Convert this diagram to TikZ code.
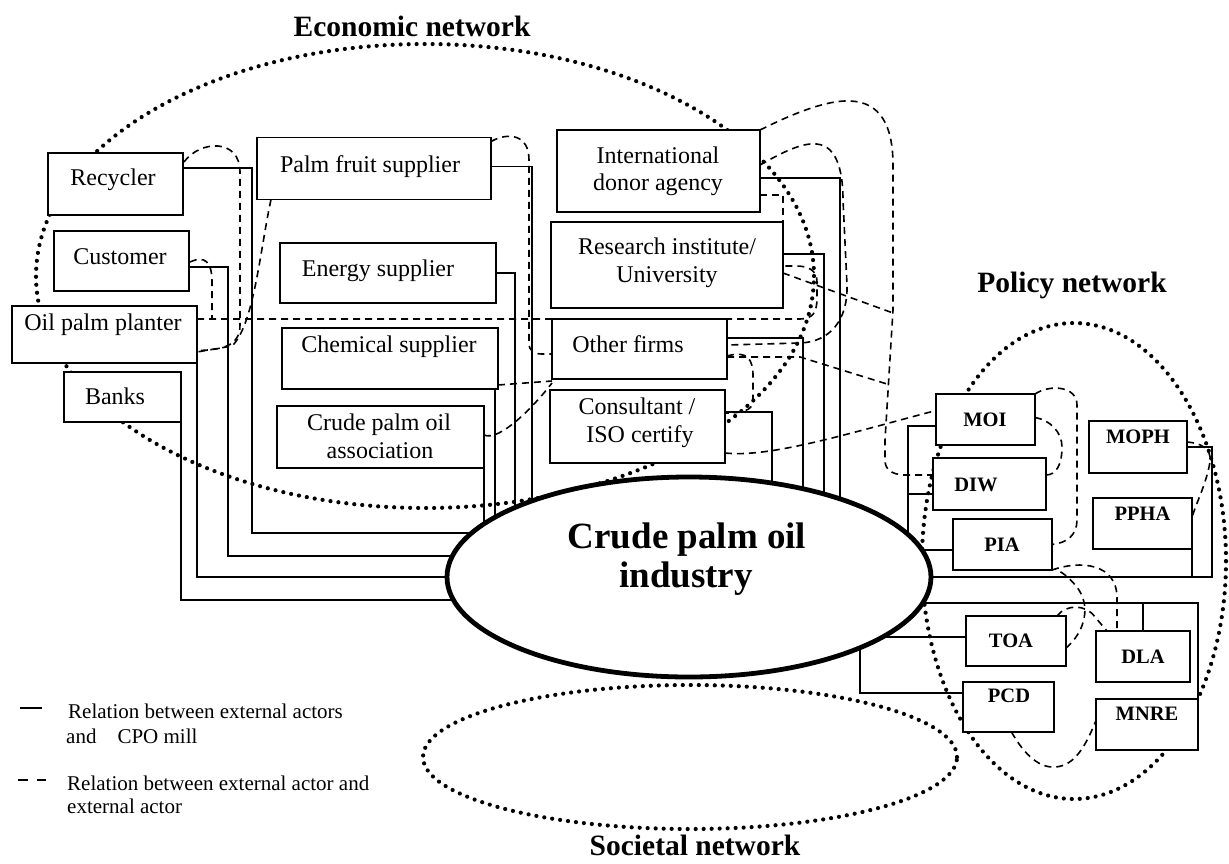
\documentclass[tikz,border=0pt]{standalone}
\usepackage{fontspec}
\setmainfont{Liberation Serif}
\usetikzlibrary{shapes.geometric,calc}
\pgfdeclarelayer{bg}
\pgfsetlayers{bg,main}
\newcommand\bxfont{\fontsize{24}{28}\selectfont}
\newcommand\plfont{\fontsize{20.5}{24}\selectfont\bfseries}
\newcommand\ttlfont{\fontsize{29.5}{34}\selectfont\bfseries}
\newcommand\cpofont{\fontsize{37}{42}\selectfont\bfseries}
\newcommand\lgfont{\fontsize{21}{25}\selectfont}
\begin{document}
\begin{tikzpicture}[x=1pt,y=-1pt,
 box/.style={draw, line width=1.5pt, fill=white, inner sep=0pt, outer sep=0pt},
 lbl/.style={anchor=base, inner sep=0pt, font=\bxfont},
 plbl/.style={anchor=base, inner sep=0pt, font=\plfont},
 lgt/.style={anchor=base west, inner sep=0pt, font=\lgfont},
 ttl/.style={anchor=base, inner sep=0pt, font=\ttlfont},
 rel/.style={line width=1.5pt},
 ext/.style={line width=1.6pt, dash pattern=on 7pt off 5pt},
 net/.style={draw, ellipse, line width=4.2pt, line cap=round, dash pattern=on 0pt off 8pt, inner sep=0pt}
]
\useasboundingbox (0,0) rectangle (1229,863);

% network outlines
\node[net, minimum width=778pt, minimum height=464pt] (econ) at (425,276) {};
\node[net, minimum width=304pt, minimum height=476pt] (pol) at (1074,561) {};
\node[net, minimum width=534pt, minimum height=144pt] (soc) at (690,757) {};

% central actor
\node[ellipse, draw, line width=4.8pt, fill=white, inner sep=0pt, minimum width=484pt, minimum height=200pt] (cpo) at (689,577) {};
\node[anchor=base, inner sep=0pt, font=\cpofont] (cpo-l1) at (687,548) {Crude palm oil};
\node[anchor=base, inner sep=0pt, font=\cpofont] (cpo-l2) at (686,587) {industry};

% economic actors
\node[box, minimum width=135pt, minimum height=62pt] (rec) at (115.5,184) {};
\node[box, minimum width=135pt, minimum height=60pt] (cus) at (121.5,261) {};
\node[box, minimum width=185pt, minimum height=57pt] (opp) at (104.5,334.5) {};
\node[box, minimum width=117pt, minimum height=50pt] (bank) at (122.5,397) {};
\node[box, minimum width=234pt, minimum height=62pt] (pfs) at (374,168.5) {};
\node[box, minimum width=216pt, minimum height=60pt] (ene) at (388,273) {};
\node[box, minimum width=216pt, minimum height=61pt] (che) at (390,358.5) {};
\node[box, minimum width=207pt, minimum height=62pt] (cpoa) at (380.5,437) {};
\node[box, minimum width=203pt, minimum height=82pt] (ida) at (658.5,171) {};
\node[box, minimum width=232pt, minimum height=86pt] (rin) at (667,265) {};
\node[box, minimum width=175pt, minimum height=60pt] (oth) at (639.5,349) {};
\node[box, minimum width=175pt, minimum height=73pt] (con) at (637.5,426.5) {};

\node[lbl] (rec-l) at (113,185) {Recycler};
\node[lbl] (cus-l) at (120,264) {Customer};
\node[lbl] (opp-l) at (103,330) {Oil palm planter};
\node[lbl] (bank-l) at (115,404) {Banks};
\node[lbl] (pfs-l) at (370,172) {Palm fruit supplier};
\node[lbl] (ene-l) at (378,276) {Energy supplier};
\node[lbl] (che-l) at (389,352) {Chemical supplier};
\node[lbl] (cpoa-l1) at (379,430) {Crude palm oil};
\node[lbl] (cpoa-l2) at (380,458) {association};
\node[lbl] (ida-l1) at (658,163) {International};
\node[lbl] (ida-l2) at (658,190) {donor agency};
\node[lbl] (rin-l1) at (667,254) {Research institute/};
\node[lbl] (rin-l2) at (667,282) {University};
\node[lbl] (oth-l) at (628,352) {Other firms};
\node[lbl] (con-l1) at (637,414) {Consultant /};
\node[lbl] (con-l2) at (640,442) {ISO certify};

% policy actors
\node[box, minimum width=99pt, minimum height=51pt] (moi) at (985.5,419.5) {};
\node[box, minimum width=113pt, minimum height=52pt] (diw) at (989.5,484) {};
\node[box, minimum width=99pt, minimum height=51pt] (pia) at (1002.5,544.5) {};
\node[box, minimum width=98pt, minimum height=52pt] (moph) at (1138,447) {};
\node[box, minimum width=99pt, minimum height=51pt] (ppha) at (1142.5,523.5) {};
\node[box, minimum width=100pt, minimum height=50pt] (toa) at (1016,641) {};
\node[box, minimum width=94pt, minimum height=51pt] (dla) at (1143,656.5) {};
\node[box, minimum width=91pt, minimum height=50pt] (pcd) at (1008.5,707) {};
\node[box, minimum width=102pt, minimum height=51pt] (mnre) at (1147,724.5) {};

\node[plbl] (moi-l) at (985,426) {MOI};
\node[plbl] (diw-l) at (976,491) {DIW};
\node[plbl] (pia-l) at (1002,551) {PIA};
\node[plbl] (moph-l) at (1138,443) {MOPH};
\node[plbl] (ppha-l) at (1142.5,520) {PPHA};
\node[plbl] (toa-l) at (1011,647) {TOA};
\node[plbl] (dla-l) at (1143,663) {DLA};
\node[plbl] (pcd-l) at (1009,702) {PCD};
\node[plbl] (mnre-l) at (1147,720) {MNRE};

% titles
\node[ttl] (econ-t) at (412,36) {Economic network};
\node[ttl] (pol-t) at (1072,292) {Policy network};
\node[ttl] (soc-t) at (695,855) {Societal network};

% legend
\coordinate (ls1) at (20,708);
\coordinate (ls2) at (42,708);
\draw[line width=1.5pt] (ls1) -- (ls2);
\coordinate (ld1) at (18,780);
\coordinate (ld2) at (46,780);
\draw[line width=2pt, dash pattern=on 10pt off 9pt] (ld1) -- (ld2);
\node[lgt] (lg1) at (68,718) {Relation between external actors};
\node[lgt] (lg2) at (66,743) {and\ \ \ \ CPO mill};
\node[lgt] (lg3) at (67,790) {Relation between external actor and};
\node[lgt] (lg4) at (67,813) {external actor};

\begin{pgfonlayer}{bg}
% relations with the CPO mill
\draw[rel] ($(rec.north east)+(0,15)$) -| (252,533) -- (cpo.center |- 0,533);
\draw[rel] ($(cus.east)+(0,6)$) -| (228,556) -- (cpo.center |- 0,556);
\draw[rel] (opp.south east) |- (cpo.center);
\draw[rel] (bank.south east) |- (cpo.center |- 0,600);
\draw[rel] ($(pfs.north east)+(0,29)$) -| ($(cpo.center)+(-157,-10)$);
\draw[rel] (ene.east) -| ($(cpo.center)+(-174,0)$);
\draw[rel] ($(che.south east)+(-3,0)$) |- (cpo.center);
\draw[rel] (cpoa.south east) |- (cpo.center);
\draw[rel] ($(ida.east)+(0,7)$) -| ($(cpo.center)+(151,0)$);
\draw[rel] ($(rin.east)+(0,-11)$) -| ($(cpo.center)+(135,0)$);
\draw[rel] ($(oth.east)+(0,-11)$) -| ($(cpo.center)+(114,0)$);
\draw[rel] ($(con.east)+(0,-14.5)$) -| ($(cpo.center)+(83,0)$);

\coordinate (pv) at (908,577);
\draw[rel] (moph.east) -| (1212,577) -- (cpo.center);
\draw[rel] (ppha.south east) -- (ppha.south east |- cpo.center);
\draw[rel, line width=2.4pt] ($(moi.west)+(0,6.5)$) -| (pv);
\draw[rel] ($(diw.west)+(0,10)$) -- (pv |- 0,494);
\draw[rel] ($(pia.west)+(0,5.5)$) -- (cpo.center |- 0,550);
\draw[rel] (mnre.north east) |- (cpo.center |- 0,603);
\draw[rel] (dla.north) -- (dla.north |- 0,603);
\draw[rel] ($(toa.west)+(0,-4)$) -- (cpo.center |- 0,637);
\draw[rel] ($(pcd.west)+(0,-14)$) -| ($(cpo.center)+(171,40)$);

% relations between external actors
\coordinate (j1) at (212,319);
\coordinate (j2) at (893,313);
\coordinate (j3) at (887,384);
\draw[ext] ($(rec.north east)+(1,9)$) .. controls (200,140) and (240,138) .. (240,172) -- (240,325) .. controls (240,343) and (228,350) .. ($(opp.east)+(0,16)$);
\draw[ext] ($(pfs.south west)+(14,0)$) .. controls (260,250) and (254,325) .. (232,346) -- ($(opp.east)+(0,17.5)$);
\draw[ext] ($(cus.east)+(1,1)$) .. controls (205,255) and (212,262) .. (212,282) -- (j1);
\draw[ext] ($(opp.east)+(0,-15.5)$) -- (800,319) .. controls (813,319) and (817,312) .. (817,298) -- (817,282) .. controls (817,270) and (808,266) .. (796,266) -- (rin.east |- 0,266);
\draw[ext] ($(pfs.north east)+(0,4)$) .. controls (508,132) and (529,134) .. (529,160) -- (529,343) .. controls (529,351) and (534,354) .. (542,354) -- ($(oth.west)+(0,5)$);
\draw[ext] ($(che.south east)+(0,-4)$) -- ($(oth.south west)+(0,2)$);
\draw[ext] ($(cpoa.east)+(0,-2)$) .. controls (500,442) and (535,405) .. ($(oth.south west)+(0,4)$);
\draw[ext] (ida.north east) .. controls (800,110) and (830,100) .. (850,101) .. controls (880,102) and (893,125) .. (893,165) -- (893,310) -- (885,440) -- (885,460) .. controls (885,470) and (892,474) .. (903,475) -- ($(diw.west)+(0,-9)$);
\draw[ext] ($(ida.east)+(0,-6)$) .. controls (790,148) and (815,136) .. (830,150) .. controls (840,160) and (843,180) .. (843,200) -- (847,285) .. controls (848,320) and (830,342) .. (800,343) -- ($(oth.east)+(0,-4)$);
\draw[ext] ($(ida.south east)+(0,-17)$) -| (rin.north east);
\draw[ext] ($(rin.east)+(0,8)$) -- (j2);
\draw[ext] ($(oth.east)+(0,8)$) -- (800,357) -- (j3);
\draw[ext] ($(oth.east)+(0,7)$) .. controls (748,350) and (753,360) .. (753,376) -- (753,400) .. controls (753,411) and (742,413) .. ($(con.north east)+(0,23)$);
\draw[ext] ($(con.south east)+(0,-10)$) .. controls (770,458) and (850,433) .. ($(moi.west)+(0,-9)$);
\draw[ext] (moi.north east) .. controls (1050,384) and (1077,386) .. (1077,405) -- (1077,520) .. controls (1077,535) and (1067,543) .. (pia.east);
\draw[ext] ($(moi.east)+(0,-2)$) .. controls (1050,420) and (1062,432) .. (1062,447) .. controls (1062,465) and (1056,475) .. ($(diw.east)+(0,-9)$);
\draw[ext] (pia.south east) .. controls (1080,560) and (1117,563) .. (1117,598) -- ($(dla.north west)+(21,0)$);
\draw[ext] ($(toa.east)+(0,7)$) .. controls (1085,632) and (1092,605) .. (1076,586) .. controls (1068,576) and (1060,571) .. ($(pia.south east)+(3,-1)$);
\draw[ext] ($(toa.north east)+(-9,0)$) .. controls (1066,604) and (1086,604) .. (1095,617) -- ($(dla.north west)+(11,0)$);
\draw[ext] ($(moph.east)+(0,-5)$) .. controls (1200,443) and (1212,448) .. (1210,462) .. controls (1206,485) and (1196,503) .. ($(ppha.east)+(0,-6)$);
\draw[ext] ($(pcd.south)+(3,0)$) .. controls (1025,756) and (1040,768) .. (1055,767) .. controls (1075,766) and (1086,745) .. ($(mnre.west)+(0,-4)$);
\end{pgfonlayer}
\end{tikzpicture}
\end{document}
